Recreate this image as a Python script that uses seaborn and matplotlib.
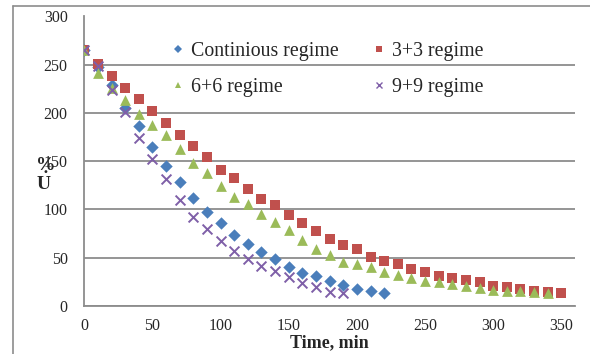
import numpy as np
import pandas as pd
import matplotlib
matplotlib.use("Agg")
import matplotlib.pyplot as plt
from matplotlib.lines import Line2D
import seaborn as sns

# Sampling times (min) and the four regimes
time = list(range(0, 360, 10))
continuous = [265, 248, 229, 205.5, 186, 165, 145, 128, 111.6, 97, 85.7, 73, 64.4,
              55.8, 48, 40.3, 33.5, 30.7, 25.8, 21.4, 16.9, 15.2, 13.4]
regime_3_3 = [265, 250.4, 238, 226, 214, 202, 190, 177.4, 165.3, 154, 141, 132.6,
              120.6, 111, 104, 94.5, 85.8, 77.5, 69.6, 63.4, 58.3, 50.6, 46.5, 43,
              37.6, 34.5, 30.7, 28.9, 26.5, 24.2, 20.7, 19, 16.9, 15.2, 14.5, 13.4]
regime_6_6 = [265, 241.7, 225.6, 213, 199, 187.7, 177, 162.6, 148, 137.4, 124, 112.6,
              105.8, 94.7, 86.8, 78.2, 67.9, 58.3, 52.4, 45.5, 43, 39.7, 35.1, 31.7,
              28.9, 25.8, 24.2, 22.4, 20.4, 18, 16.2, 15.5, 15.2, 14.5, 13.4]
regime_9_9 = [265, 248.6, 223.5, 201, 173.5, 152, 131.6, 110, 92, 80, 67, 56.5, 48,
              41, 36, 29.3, 23.8, 19.6, 14.5, 13.4]

labels = ["Continious regime", "3+3 regime", "6+6 regime", "9+9 regime"]
series = [continuous, regime_3_3, regime_6_6, regime_9_9]
colors = ["#4A7EBB", "#C0504D", "#9BBB59", "#7F5FA8"]
markers = ["D", "s", "^", "x"]
sizes = [40, 55, 60, 50]

x_ticks = [0, 50, 100, 150, 200, 250, 300, 350]
y_ticks = [0, 50, 100, 150, 200, 250, 300]

sns.set_style("white")
plt.rcParams["font.family"] = ["Liberation Serif", "DejaVu Serif"]
plt.rcParams["mathtext.fontset"] = "custom"
plt.rcParams["mathtext.rm"] = "Liberation Serif"
plt.rcParams["mathtext.bf"] = "Liberation Serif:bold"

W, H = 590, 354
fig = plt.figure(figsize=(W / 100, H / 100), dpi=100)
ax = fig.add_axes([84.3 / W, 1 - 305.7 / H, (575 - 84.3) / W, (305.7 - 16.5) / H])

grid_col = "#8C8C8C"
for lab, vals, c, m, s in zip(labels, series, colors, markers, sizes):
    df = pd.DataFrame({"t": time[:len(vals)], "v": vals})
    if m == "x":
        sns.scatterplot(data=df, x="t", y="v", marker=m, color=c, s=s,
                        linewidth=1.4, ax=ax, legend=False, zorder=3)
    else:
        sns.scatterplot(data=df, x="t", y="v", marker=m, color=c, s=s,
                        linewidth=0, ax=ax, legend=False, zorder=3)

ax.set_xlim(0, 360)
ax.set_ylim(0, 300)
ax.set_xticks(x_ticks)
ax.set_yticks(y_ticks)
ax.tick_params(length=0, labelsize=11.5)
ax.tick_params(axis="y", pad=12)
ax.tick_params(axis="x", pad=9)
ax.yaxis.grid(True, color=grid_col, linewidth=1.3)
ax.set_axisbelow(True)
for side in ["top", "right"]:
    ax.spines[side].set_visible(False)
for side in ["left", "bottom"]:
    ax.spines[side].set_color(grid_col)
    ax.spines[side].set_linewidth(1.3)

ax.set_xlabel("Time, min", fontsize=13, fontweight="bold", labelpad=0)
ax.set_ylabel("")
# stacked axis title: percent sign above the dotted U
fig.text(46 / W, 1 - 165 / H, "%", fontsize=14, fontweight="bold",
         ha="center", va="center")
fig.text(44 / W, 1 - 183 / H, r"$\mathbf{\dot{U}}$", fontsize=14,
         ha="center", va="center")

handles = [Line2D([], [], linestyle="none", marker=m, color=c,
                  markersize=(4.3 if m == "D" else 5), markeredgewidth=(1 if m == "x" else 0))
           for m, c in zip(markers, colors)]
# order so that the two-column layout reads row-wise
order = [0, 2, 1, 3]
ax.legend([handles[i] for i in order], [labels[i] for i in order], ncol=2,
          frameon=False, fontsize=14.3, loc="upper left",
          bbox_to_anchor=(172 / W, 1 - 42 / H), bbox_transform=fig.transFigure,
          handlelength=0.6, handletextpad=0.35, labelspacing=0.85,
          columnspacing=1.75, borderaxespad=0, borderpad=0)

# outer chart frame
frame_col = "#8C8C8C"
fig.add_artist(Line2D([12.7 / W, 12.7 / W], [0, 1 - 5.7 / H], color=frame_col,
                      linewidth=1.2, transform=fig.transFigure))
fig.add_artist(Line2D([12.7 / W, 1], [1 - 5.7 / H, 1 - 5.7 / H], color=frame_col,
                      linewidth=1.2, transform=fig.transFigure))

fig.savefig("out.png", dpi=100)
